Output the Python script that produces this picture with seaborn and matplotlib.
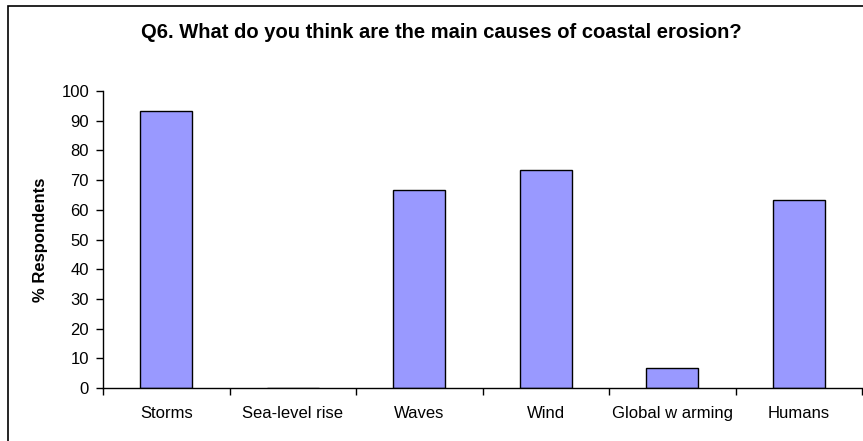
import pandas as pd
import matplotlib.pyplot as plt
import seaborn as sns
from matplotlib.patches import Rectangle

# Survey answers (share of respondents, %)
causes = ["Storms", "Sea-level rise", "Waves", "Wind", "Global w arming", "Humans"]
percent = [93.3, 0, 66.7, 73.3, 6.7, 63.3]
y_ticks = list(range(0, 101, 10))

df = pd.DataFrame({"cause": causes, "percent": percent})

sns.set_style("white")
plt.rcParams["font.family"] = ["Liberation Sans", "DejaVu Sans"]
plt.rcParams["text.color"] = "black"
plt.rcParams["xtick.color"] = "black"
plt.rcParams["ytick.color"] = "black"

fig = plt.figure(figsize=(8.63, 4.41), dpi=100)
ax = fig.add_axes([103 / 863, 53 / 441, 759 / 863, 297 / 441])

sns.barplot(data=df, x="cause", y="percent", ax=ax, color="#9999FF",
            saturation=1, width=0.41, edgecolor="black", linewidth=1)

ax.set_xlim(-0.5, len(causes) - 0.5)
ax.set_ylim(0, 100)
ax.set_yticks(y_ticks)
ax.set_xlabel("")
ax.set_ylabel("")

# Excel style: tick marks between categories, labels centred under bars
ax.set_xticks([i - 0.5 for i in range(len(causes) + 1)], minor=True)
ax.tick_params(axis="x", which="major", length=0, pad=13, labelsize=12)
ax.tick_params(axis="x", which="minor", length=5, width=1, direction="out", color="black")
ax.tick_params(axis="y", length=5, width=1, direction="out", color="black", pad=5, labelsize=12)
ax.tick_params(bottom=True, left=True, which="both")

for side in ["top", "right"]:
    ax.spines[side].set_visible(False)
for side in ["left", "bottom"]:
    ax.spines[side].set_color("black")
    ax.spines[side].set_linewidth(1)

fig.text(441 / 863, 1 - 33 / 441, "Q6. What do you think are the main causes of coastal erosion?",
         ha="center", va="center", fontsize=14.5, fontweight="bold")
fig.text(40 / 863, 1 - 240 / 441, "% Respondents", rotation=90,
         ha="center", va="center", fontsize=12, fontweight="bold")

# chart area border (cropped on the right and bottom in the original)
fig.patches.append(Rectangle((8 / 863, -0.1), 1.2, 1.1 - 6 / 441,
                             transform=fig.transFigure, fill=False,
                             edgecolor="black", linewidth=1.2))

fig.savefig("out.png", dpi=100)
